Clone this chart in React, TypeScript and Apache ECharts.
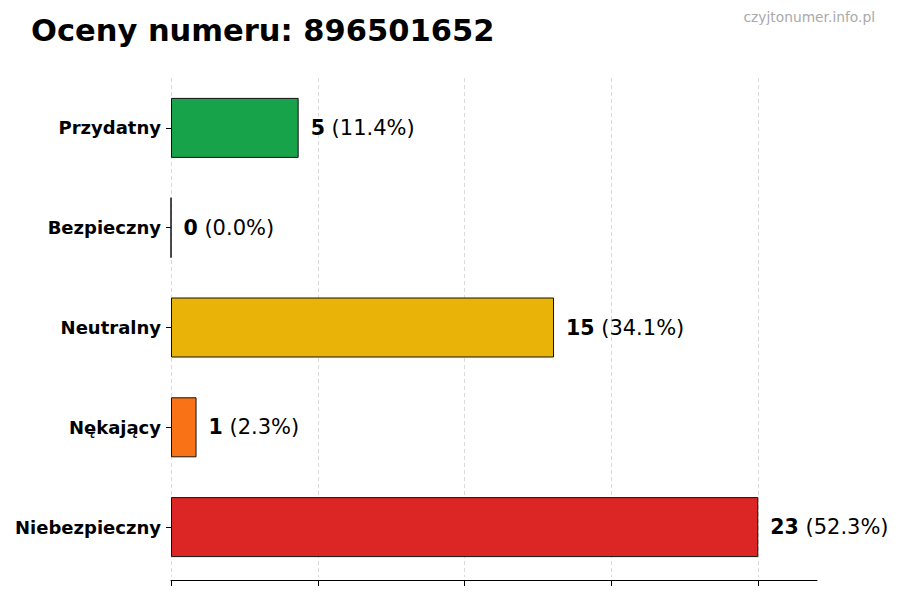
import * as echarts from 'echarts';
import { useEffect, useRef } from 'react';

// dane z wykresu
const categories = ['Przydatny', 'Bezpieczny', 'Neutralny', 'Nękający', 'Niebezpieczny'];
const counts = [5, 0, 15, 1, 23];
const barColors = ['#16a34a', '#2563eb', '#eab308', '#f97316', '#dc2626'];
const xTicks = [0, 5.75, 11.5, 17.25, 23];
const xMax = 25.3;
const titleText = 'Oceny numeru: 896501652';
const watermark = 'czyjtonumer.info.pl';

const FONT = '"DejaVu Sans", sans-serif';

const App = () => {
  const chartRef = useRef<HTMLDivElement | null>(null);

  useEffect(() => {
    if (!chartRef.current) return;
    const chart = echarts.init(chartRef.current, null, { renderer: 'svg' });
    const total = counts.reduce((a, b) => a + b, 0);

    const option: echarts.EChartsOption = {
      animation: false,
      backgroundColor: '#ffffff',
      textStyle: { fontFamily: FONT },
      title: {
        text: titleText,
        left: 26,
        top: 10,
        textStyle: { fontFamily: FONT, fontSize: 30.5, fontWeight: 'bold', color: '#000' },
      },
      graphic: [
        {
          type: 'text',
          right: 25,
          top: 10,
          style: { text: watermark, fontFamily: FONT, fontSize: 13.8, fill: '#aaaaaa' },
        },
      ],
      grid: { left: 171, right: 83, top: 78, bottom: 23, containLabel: false },
      xAxis: {
        type: 'value',
        min: 0,
        max: xMax,
        interval: 5.75,
        offset: 3,
        axisLine: { show: true, lineStyle: { color: '#000', width: 1 } },
        axisTick: { show: true, length: 6, customValues: xTicks, lineStyle: { color: '#000' } },
        axisLabel: { show: false },
        splitLine: {
          show: true,
          lineStyle: { color: '#dadada', type: [4, 3], width: 1 },
        },
      } as any,
      yAxis: {
        type: 'category',
        inverse: true,
        data: categories,
        axisLine: { show: false },
        axisTick: { show: true, length: 5, alignWithLabel: true, lineStyle: { color: '#000' } },
        axisLabel: {
          margin: 10,
          fontFamily: FONT,
          fontSize: 18,
          fontWeight: 'bold',
          color: '#000',
        },
        splitLine: { show: false },
      },
      series: [
        {
          type: 'bar',
          barWidth: 60,
          data: counts.map((v, i) => ({
            value: v,
            itemStyle: { color: barColors[i], borderColor: '#111', borderWidth: 1 },
          })),
          label: {
            show: true,
            position: 'right',
            distance: 12,
            formatter: (p: any) =>
              `{b|${p.value}}{r| (${((p.value / total) * 100).toFixed(1)}%)}`,
            rich: {
              b: { fontFamily: FONT, fontSize: 20.5, fontWeight: 'bold', color: '#000' },
              r: { fontFamily: FONT, fontSize: 21, color: '#000' },
            },
          },
        },
      ],
    };

    chart.setOption(option);
    return () => {
      chart.dispose();
    };
  }, []);

  return <div ref={chartRef} style={{ width: '900px', height: '600px', margin: '-8px' }}></div>;
};

export default App;
